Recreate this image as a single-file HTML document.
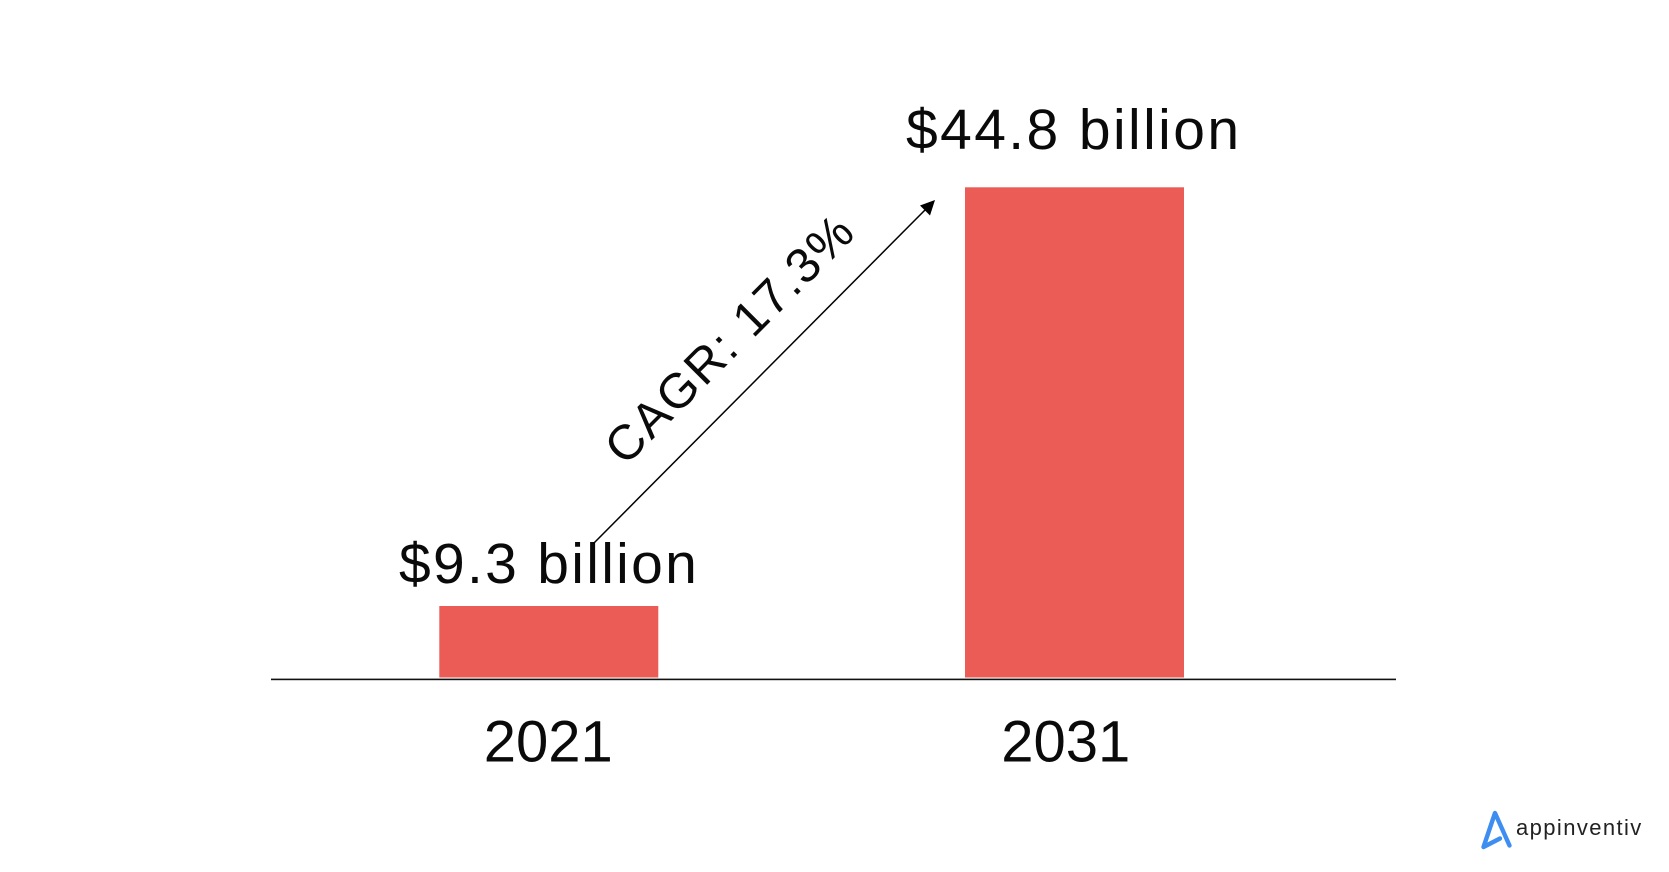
<!DOCTYPE html>
<html>
<head>
<meta charset="utf-8">
<style>
  html, body { margin: 0; padding: 0; background: #ffffff; }
  body { width: 1669px; height: 872px; overflow: hidden; }
  svg { display: block; }
  text { font-family: "Liberation Sans", "DejaVu Sans", sans-serif; fill: #0a0a0a; }
</style>
</head>
<body>
<svg width="1669" height="872" viewBox="0 0 1669 872" xmlns="http://www.w3.org/2000/svg">
  <rect x="0" y="0" width="1669" height="872" fill="#ffffff"/>

  <!-- Bars -->
  <rect x="439.3" y="606" width="219" height="71.5" fill="#eb5c56"/>
  <rect x="965" y="187.3" width="219" height="490.2" fill="#eb5c56"/>

  <!-- Axis line -->
  <rect x="271" y="678.6" width="1125" height="1.6" fill="#111111"/>

  <!-- Value labels -->
  <text x="399" y="583" font-size="57" letter-spacing="2.3">$9.3 billion</text>
  <text x="906" y="149" font-size="57" letter-spacing="2.4">$44.8 billion</text>

  <!-- Year labels -->
  <text x="548.3" y="761.7" font-size="58" text-anchor="middle">2021</text>
  <text x="1065.8" y="761.7" font-size="58" text-anchor="middle">2031</text>

  <!-- CAGR arrow -->
  <line x1="593" y1="544" x2="927" y2="208" stroke="#000" stroke-width="1.5"/>
  <polygon points="935,200 920,205.5 930,215.5" fill="#000"/>

  <!-- CAGR text -->
  <text transform="translate(625,467) rotate(-45)" font-size="49" letter-spacing="2">CAGR: 17.3%</text>

  <!-- Logo -->
  <path d="M1509.5,845.5 L1495,813 L1483.5,847 L1500,838.5" fill="none" stroke="#3d8ef0" stroke-width="4.4" stroke-linecap="round" stroke-linejoin="round"/>
  <text x="1516" y="835" font-size="22" letter-spacing="1.4" style="fill:#222222">appinventiv</text>
</svg>
</body>
</html>
